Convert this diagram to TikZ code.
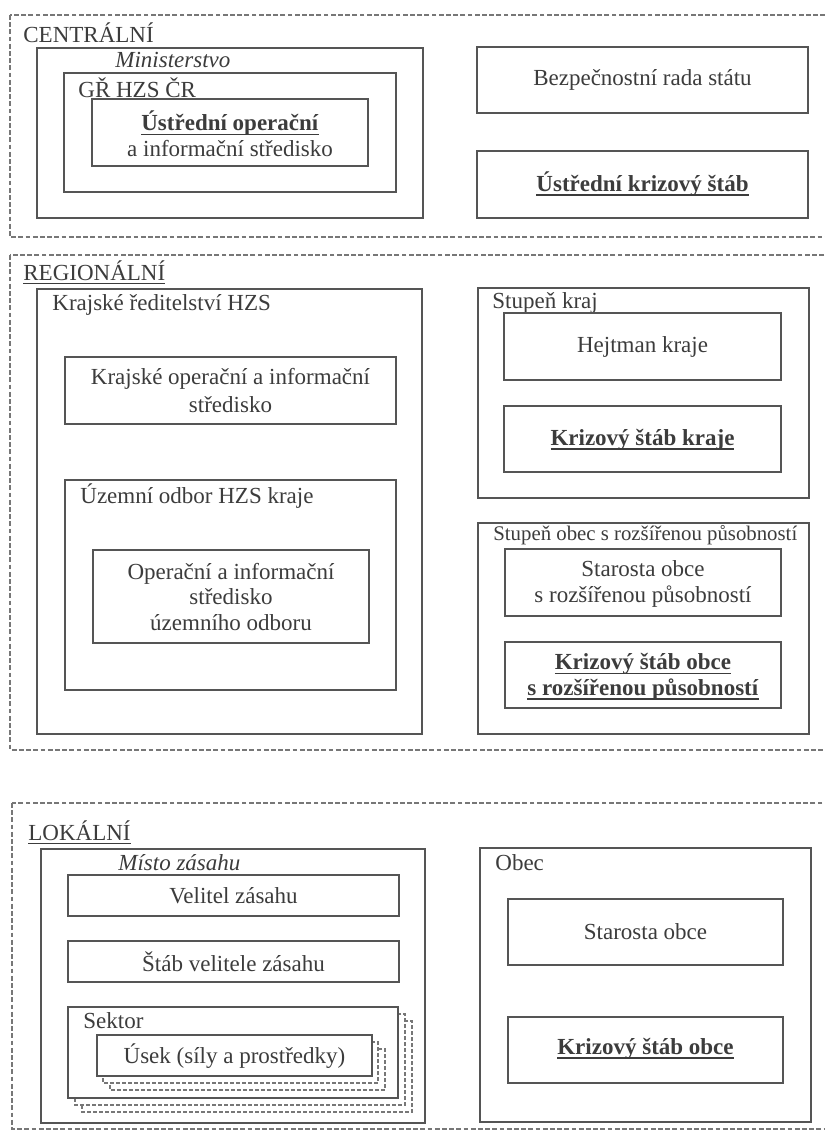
\documentclass[tikz,border=0pt]{standalone}
\usepackage{fontspec}
\setmainfont{Liberation Serif}

\definecolor{linegray}{HTML}{555555}
\definecolor{dashgray}{HTML}{777777}
\definecolor{textgray}{HTML}{3C3C3C}

\newcommand\mainsize{\fontsize{11.5}{12.8}\selectfont}
\newsavebox\ulbox
\newcommand\undl[1]{\sbox\ulbox{#1}\rlap{\rule[-2.1pt]{\wd\ulbox}{0.7pt}}\usebox\ulbox}

\tikzset{
  levelbox/.style={draw=dashgray, line width=0.6pt, dash pattern=on 2.4pt off 1.2pt},
  box/.style={draw=linegray, line width=0.85pt, fill=white},
  copybox/.style={draw=dashgray, line width=0.6pt, dash pattern=on 2pt off 1pt, fill=white},
  txt/.style={inner sep=0pt, text=textgray, align=center, font=\mainsize},
  lbl/.style={inner sep=0pt, anchor=base west, text=textgray, font=\mainsize},
}

\begin{document}
\begin{tikzpicture}[x=0.5pt, y=-0.5pt]
  \useasboundingbox (0,0) rectangle (825,1132);
  \clip (0,0) rectangle (825,1132);
  \fill[white] (0,0) rectangle (825,1132);

  % centralni uroven
  \draw[levelbox] (10,15) rectangle (840,237);
  \node[lbl] (centralni) at (23,42) {CENTRÁLNÍ};
  \draw[box] (37,48) rectangle (423,218);
  \node[lbl, font=\mainsize\itshape] (ministerstvo) at (115,67) {Ministerstvo};
  \draw[box] (64,73) rectangle (396,192);
  \node[lbl] (grhzs) at (78,97) {GŘ HZS ČR};
  \draw[box] (92,99) rectangle (368,166);
  \node[txt] (uois) at (230,134)
    {\undl{\textbf{Ústřední operační}}\\a informační středisko};
  \draw[box] (477,47) rectangle (808,113);
  \node[txt] (bezprada) at (642.5,80) {Bezpečnostní rada státu};
  \draw[box] (477,151) rectangle (808,218);
  \node[txt] (ustkrstab) at (642.5,184) {\undl{\textbf{Ústřední krizový štáb}}};

  % regionalni uroven
  \draw[levelbox] (10,255) rectangle (840,750);
  \node[lbl] (regionalni) at (23,280) {\undl{REGIONÁLNÍ}};
  \draw[box] (37,289) rectangle (422,734);
  \node[lbl] (krajhzs) at (52,310) {Krajské ředitelství HZS};
  \draw[box] (65,357) rectangle (396,424);
  \node[txt, font=\fontsize{11.5}{14}\selectfont] (kois) at (230.5,391)
    {Krajské operační a informační\\středisko};
  \draw[box] (65,480) rectangle (396,690);
  \node[lbl] (uzemni) at (80,503) {Územní odbor HZS kraje};
  \draw[box] (93,550) rectangle (369,643);
  \node[txt] (ois) at (231,597)
    {Operační a informační\\středisko\\územního odboru};
  \draw[box] (478,288) rectangle (809,498);
  \node[lbl] (stkraj) at (492,308) {Stupeň kraj};
  \draw[box] (504,313) rectangle (781,380);
  \node[txt] (hejtman) at (642.5,347) {Hejtman kraje};
  \draw[box] (504,406) rectangle (781,472);
  \node[txt] (kskraje) at (642.5,440) {\undl{\textbf{Krizový štáb kraje}}};
  \draw[box] (478,523) rectangle (809,734);
  \node[lbl, font=\fontsize{10.4}{12}\selectfont] (storp) at (493,540)
    {Stupeň obec s rozšířenou působností};
  \draw[box] (505,549) rectangle (781,616);
  \node[txt] (starorp) at (643,584)
    {Starosta obce\\s rozšířenou působností};
  \draw[box] (505,642) rectangle (781,708);
  \node[txt] (ksorp) at (643,677)
    {\undl{\textbf{Krizový štáb obce}}\\\undl{\textbf{s rozšířenou působností}}};

  % lokalni uroven
  \draw[levelbox] (12,803) rectangle (840,1129);
  \node[lbl] (lokalni) at (28,840) {\undl{LOKÁLNÍ}};
  \draw[box] (41,849) rectangle (425,1123);
  \node[lbl, font=\mainsize\itshape] (misto) at (118,870) {Místo zásahu};
  \draw[box] (68,875) rectangle (399,916);
  \node[txt] (velitel) at (233.5,896) {Velitel zásahu};
  \draw[box] (68,941) rectangle (399,982);
  \node[txt] (stabvz) at (233.5,962) {Štáb velitele zásahu};
  \foreach \d in {14,7}
    \draw[copybox] (68+\d,1007+\d) rectangle (398+\d,1098+\d);
  \draw[box] (68,1007) rectangle (398,1098);
  \node[lbl] (sektor) at (83,1028) {Sektor};
  \foreach \d in {14,7}
    \draw[copybox] (96+\d,1035+\d) rectangle (371+\d,1076+\d);
  \draw[box] (97,1035) rectangle (372,1076);
  \node[txt] (usek) at (234.5,1056) {Úsek (síly a prostředky)};
  \draw[box] (480,848) rectangle (811,1122);
  \node[lbl] (obec) at (495,870) {Obec};
  \draw[box] (508,899) rectangle (783,965);
  \node[txt] (starosta) at (645.5,932) {Starosta obce};
  \draw[box] (508,1017) rectangle (783,1083);
  \node[txt] (ksobce) at (645.5,1049) {\undl{\textbf{Krizový štáb obce}}};
\end{tikzpicture}
\end{document}
